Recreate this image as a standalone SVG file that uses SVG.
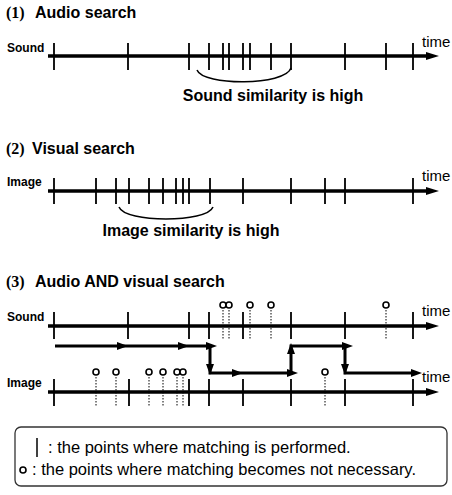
<svg xmlns="http://www.w3.org/2000/svg" xmlns:xlink="http://www.w3.org/1999/xlink" width="452" height="495" viewBox="0 0 452 495">
<style>
.bg{fill:#fff}
.title{font-family:"Liberation Sans",Arial,sans-serif;font-weight:bold;font-size:16px;fill:#000}
.num{font-family:"Liberation Serif","Times New Roman",serif;font-weight:bold;font-size:16px;fill:#000}
.lab{font-family:"Liberation Sans",Arial,sans-serif;font-weight:bold;font-size:12px;fill:#000}
.big{font-family:"Liberation Sans",Arial,sans-serif;font-weight:bold;font-size:16px;fill:#000}
.time{font-family:"Liberation Sans",Arial,sans-serif;font-size:15px;fill:#000}
.leg{font-family:"Liberation Sans",Arial,sans-serif;font-size:16.5px;fill:#000}
.axis{stroke:#000;stroke-width:3.5;fill:none}
.tick{stroke:#000;stroke-width:1.8;fill:none}
.dot{stroke:#000;stroke-width:1;stroke-dasharray:1.5 1.5;fill:none}
.circ{stroke:#000;stroke-width:1.6;fill:#fff}
.arc{stroke:#000;stroke-width:1.5;fill:none}
.flow{stroke:#000;stroke-width:3;fill:none}
.box{stroke:#333;stroke-width:1.3;fill:none}
</style>
<defs>
<path id="th" d="M0,0 L-13,-4 L-13,4 Z" fill="#000"/>
<path id="ah" d="M0,0 L-11,-4 L-11,4 Z" fill="#000"/>
</defs>
<rect class="bg" x="0" y="0" width="452" height="495"/>

<g id="section1">
<text class="num" x="6" y="18">(1)</text>
<text class="title" x="35" y="18">Audio search</text>
<text class="lab" x="7" y="52">Sound</text>
<line class="axis" x1="48" y1="56" x2="428" y2="56"/>
<use xlink:href="#th" transform="translate(439,56)"/>
<path class="tick" d="M54,43V70M128,43V70M189,43V70M209,43V70M223,43V70M229,43V70M243,43V70M250,43V70M271,43V70M291,43V70M345,43V70M386,43V70M413,43V70"/>
<text class="time" x="422" y="47">time</text>
<path class="arc" d="M197,70 C203,86 285,86 291,68"/>
<text class="big" x="273" y="101" text-anchor="middle">Sound similarity is high</text>
</g>

<g id="section2">
<text class="num" x="6" y="154">(2)</text>
<text class="title" x="32" y="154">Visual search</text>
<text class="lab" x="7" y="186">Image</text>
<line class="axis" x1="48" y1="191" x2="428" y2="191"/>
<use xlink:href="#th" transform="translate(439,191)"/>
<path class="tick" d="M54,178V204M96,178V204M116,178V204M129,178V204M149,178V204M163,178V204M176,178V204M183,178V204M189,178V204M210,178V204M243,178V204M291,178V204M325,178V204M345,178V204M413,178V204"/>
<text class="time" x="422" y="181">time</text>
<path class="arc" d="M119,207 C125,223 207,223 213,207"/>
<text class="big" x="191" y="236" text-anchor="middle">Image similarity is high</text>
</g>

<g id="section3">
<text class="num" x="6" y="287">(3)</text>
<text class="title" x="35" y="287">Audio AND visual search</text>
<text class="lab" x="7" y="321">Sound</text>
<line class="axis" x1="48" y1="326" x2="428" y2="326"/>
<use xlink:href="#th" transform="translate(439,326)"/>
<path class="tick" d="M54,312V339M128,312V339M189,312V339M209,312V339M243,312V339M291,312V339M345,312V339M413,312V339"/>
<path class="dot" d="M223,310V339M229,310V339M250,310V339M271,310V339M386,310V339"/>
<circle class="circ" cx="223" cy="305" r="3"/>
<circle class="circ" cx="229" cy="305" r="3"/>
<circle class="circ" cx="250" cy="305" r="3"/>
<circle class="circ" cx="271" cy="305" r="3"/>
<circle class="circ" cx="386" cy="305" r="3"/>
<text class="time" x="422" y="316">time</text>

<text class="lab" x="7" y="387">Image</text>
<line class="axis" x1="48" y1="392" x2="428" y2="392"/>
<use xlink:href="#th" transform="translate(439,392)"/>
<path class="tick" d="M54,379V406M129,379V406M189,379V406M209,379V406M243,379V406M291,379V406M345,379V406M413,379V406"/>
<path class="dot" d="M96,377V406M116,377V406M149,377V406M163,377V406M177,377V406M183,377V406M325,377V406"/>
<circle class="circ" cx="96" cy="372" r="3"/>
<circle class="circ" cx="116" cy="372" r="3"/>
<circle class="circ" cx="149" cy="372" r="3"/>
<circle class="circ" cx="163" cy="372" r="3"/>
<circle class="circ" cx="177" cy="372" r="3"/>
<circle class="circ" cx="183" cy="372" r="3"/>
<circle class="circ" cx="325" cy="372" r="3"/>
<text class="time" x="422" y="382">time</text>
</g>

<g id="connectors">
<path class="flow" d="M55,346 H210 V373 H291 V346 H345 V373 H412"/>
<use xlink:href="#ah" transform="translate(128,346)"/>
<use xlink:href="#ah" transform="translate(189,346)"/>
<use xlink:href="#ah" transform="translate(217,346)"/>
<use xlink:href="#ah" transform="translate(210,375) rotate(90)"/>
<use xlink:href="#ah" transform="translate(243,373)"/>
<use xlink:href="#ah" transform="translate(298,373)"/>
<use xlink:href="#ah" transform="translate(291,343) rotate(-90)"/>
<use xlink:href="#ah" transform="translate(353,346)"/>
<use xlink:href="#ah" transform="translate(345,375) rotate(90)"/>
<use xlink:href="#ah" transform="translate(422,373)"/>
</g>

<g id="legend">
<rect class="box" x="15" y="427" width="432" height="59" rx="6" ry="6"/>
<line class="tick" x1="37" y1="438" x2="37" y2="457" style="stroke-width:1.5"/>
<text class="leg" x="48" y="453">: the points where matching is performed.</text>
<circle class="circ" cx="23" cy="470" r="3"/>
<text class="leg" x="32" y="475">: the points where matching becomes not necessary.</text>
</g>
</svg>
